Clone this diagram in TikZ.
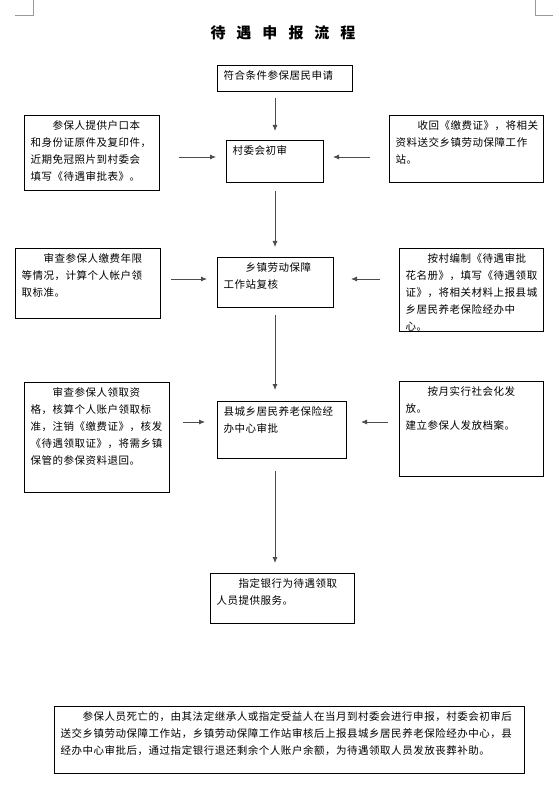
\documentclass[tikz,border=0pt]{standalone}
\usepackage{fontspec}
\setmainfont{Noto Sans CJK SC}[LetterSpace=5]
\usetikzlibrary{arrows.meta}
\newcommand{\boxbody}[3]{\parbox[c][#1][t]{#2}{#3}}
\newcommand{\ind}{\hspace*{22pt}}

\begin{document}
\begin{tikzpicture}[x=1pt, y=-1pt,
    every node/.style={font=\fontsize{10.5}{17}\selectfont},
    box/.style={draw, line width=1pt, anchor=north west, inner xsep=6pt, inner ysep=5pt},
    flow/.style={draw=black!70, line width=.8pt, -{Latex[length=6pt, width=5pt]}},
    cropmark/.style={draw=black!40, line width=.6pt}]
    \useasboundingbox (0,0) rectangle (558,791);

    % page corner marks
    \draw[cropmark] (15,15) -- (33,15) -- (33,0);
    \draw[cropmark] (535,0) -- (535,15) -- (553,15);

    \node[font=\fontsize{15}{15}\selectfont\bfseries] (title) at (283,33)
        {待\hspace{11pt}遇\hspace{11pt}申\hspace{11pt}报\hspace{11pt}流\hspace{11pt}程};

    \coordinate (spine) at (275,0);
    \coordinate (row1) at (0,157);
    \coordinate (row2) at (0,279);
    \coordinate (row3) at (0,422);

    \node[box] (apply) at (217,65) {\boxbody{16pt}{123pt}{符合条件参保居民申请}};
    \node[box] (village) at (226,140) {\boxbody{32pt}{85pt}{村委会初审}};
    \node[box] (town) at (217,257) {\boxbody{40pt}{104pt}{\ind 乡镇劳动保障\\工作站复核}};
    \node[box] (county) at (217,401) {\boxbody{47pt}{117pt}{县城乡居民养老保险经\\办中心审批}};
    \node[box] (bank) at (210,573) {\boxbody{40pt}{132pt}{\ind 指定银行为待遇领取\\人员提供服务。}};

    \node[box] (docs) at (24,115) {\boxbody{65pt}{123pt}{\ind 参保人提供户口本\\和身份证原件及复印件，\\近期免冠照片到村委会\\填写《待遇审批表》。}};
    \node[box] (card) at (389,115) {\boxbody{57pt}{142pt}{\ind 收回《缴费证》，将相关\\资料送交乡镇劳动保障工作\\站。}};
    \node[box] (check) at (15,248) {\boxbody{60pt}{133pt}{\ind 审查参保人缴费年限\\等情况，计算个人帐户领\\取标准。}};
    \node[box] (roster) at (399,248) {\boxbody{73pt}{132pt}{\ind 按村编制《待遇审批\\花名册》，填写《待遇领取\\证》，将相关材料上报县城\\乡居民养老保险经办中\\心。}};
    \node[box] (qualify) at (24,382) {\boxbody{100pt}{133pt}{\ind 审查参保人领取资\\格，核算个人账户领取标\\准，注销《缴费证》，核发\\《待遇领取证》，将需乡镇\\保管的参保资料退回。}};
    \node[box] (monthly) at (399,381) {\boxbody{85pt}{132pt}{\ind 按月实行社会化发\\放。\\建立参保人发放档案。}};

    \node[box] (death) at (54,706) {\boxbody{57pt}{458pt}{\ind 参保人员死亡的，由其法定继承人或指定受益人在当月到村委会进行申报，村委会初审后\\送交乡镇劳动保障工作站，乡镇劳动保障工作站审核后上报县城乡居民养老保险经办中心，县\\经办中心审批后，通过指定银行退还剩余个人账户余额，为待遇领取人员发放丧葬补助。}};

    \draw[flow, shorten <=6pt, shorten >=9pt] (apply.south -| spine) -- (village.north -| spine);
    \draw[flow, shorten <=8pt, shorten >=10pt] (village.south -| spine) -- (town.north -| spine);
    \draw[flow, shorten <=7pt, shorten >=11pt] (town.south -| spine) -- (county.north -| spine);
    \draw[flow, shorten <=12pt, shorten >=10pt] (county.south -| spine) -- (bank.north -| spine);

    \draw[flow, shorten <=19pt, shorten >=10pt] (docs.east |- row1) -- (village.west |- row1);
    \draw[flow, shorten <=19pt, shorten >=9pt] (card.west |- row1) -- (village.east |- row1);
    \draw[flow, shorten <=10pt, shorten >=10pt] (check.east |- row2) -- (town.west |- row2);
    \draw[flow, shorten <=19pt, shorten >=17pt] (roster.west |- row2) -- (town.east |- row2);
    \draw[flow, shorten <=13pt, shorten >=12pt] (qualify.east |- row3) -- (county.west |- row3);
    \draw[flow, shorten <=11pt, shorten >=14pt] (monthly.west |- row3) -- (county.east |- row3);
\end{tikzpicture}
\end{document}
